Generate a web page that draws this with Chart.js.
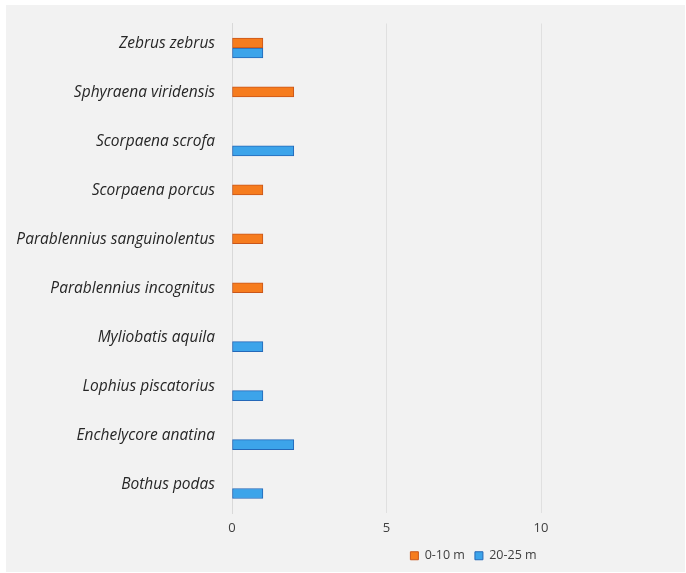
<!DOCTYPE html>
<html>
<head>
<meta charset="utf-8">
<script src="https://cdn.jsdelivr.net/npm/chart.js@4.4.0/dist/chart.umd.min.js"></script>
<style>
  html, body { margin: 0; padding: 0; background: #ffffff; width: 686px; height: 573px; overflow: hidden; }
  #box { position: absolute; left: 6px; top: 5px; width: 679px; height: 567px; background: #f2f2f2; }
  canvas { display: block; }
</style>
</head>
<body>
<div id="box"><canvas id="c" width="679" height="567"></canvas></div>
<script>
const categories = [
  'Zebrus zebrus',
  'Sphyraena viridensis',
  'Scorpaena scrofa',
  'Scorpaena porcus',
  'Parablennius sanguinolentus',
  'Parablennius incognitus',
  'Myliobatis aquila',
  'Lophius piscatorius',
  'Enchelycore anatina',
  'Bothus podas'
];
const shallow = [1, 2, null, 1, 1, 1, null, null, null, null];   // 0-10 m
const deep    = [1, null, 2, null, null, null, 1, 1, 2, 1];      // 20-25 m
const xTicks = [0, 5, 10];
const seriesNames = ['0-10 m', '20-25 m'];

const legendShift = {
  id: 'legendShift',
  afterUpdate(chart) {
    const l = chart.legend;
    if (l) { l.left += 15; l.right += 15; }
  }
};

new Chart(document.getElementById('c'), {
  type: 'bar',
  data: {
    labels: categories,
    datasets: [
      { label: seriesNames[0], data: shallow, backgroundColor: '#f67c1e', borderColor: '#c9561a', borderWidth: 1, barThickness: 10, borderSkipped: false },
      { label: seriesNames[1], data: deep, backgroundColor: '#3ca4ea', borderColor: '#2468b8', borderWidth: 1, barThickness: 10, borderSkipped: false }
    ]
  },
  options: {
    indexAxis: 'y',
    responsive: false,
    animation: false,
    layout: { padding: { top: 18.5, right: 0, bottom: 0, left: 0 } },
    scales: {
      x: {
        min: 0,
        max: 14.66,
        afterBuildTicks(scale) { scale.ticks = xTicks.map(v => ({ value: v })); },
        afterFit(scale) { scale.height = 26.5; scale.paddingLeft = 0; scale.paddingRight = 0; },
        grid: { color: '#e0e0e0', drawTicks: false, lineWidth: 1 },
        border: { display: false },
        ticks: { padding: 7, color: '#404040', font: { family: 'Open Sans', size: 13 } }
      },
      y: {
        afterFit(scale) { scale.width = 226; scale.paddingTop = 0; scale.paddingBottom = 0; },
        grid: { display: false, drawTicks: false },
        border: { display: true, color: '#d9d9d9' },
        ticks: { padding: 17, labelOffset: -4, color: '#262626', font: { family: 'Open Sans', size: 15.5, style: 'italic' } }
      }
    },
    plugins: {
      legend: {
        position: 'bottom',
        fullSize: false,
        labels: { boxWidth: 8, boxHeight: 8, padding: 10, color: '#404040', font: { family: 'Open Sans', size: 12.5 } }
      },
      tooltip: { enabled: false }
    }
  },
  plugins: [legendShift]
});
</script>
</body>
</html>
